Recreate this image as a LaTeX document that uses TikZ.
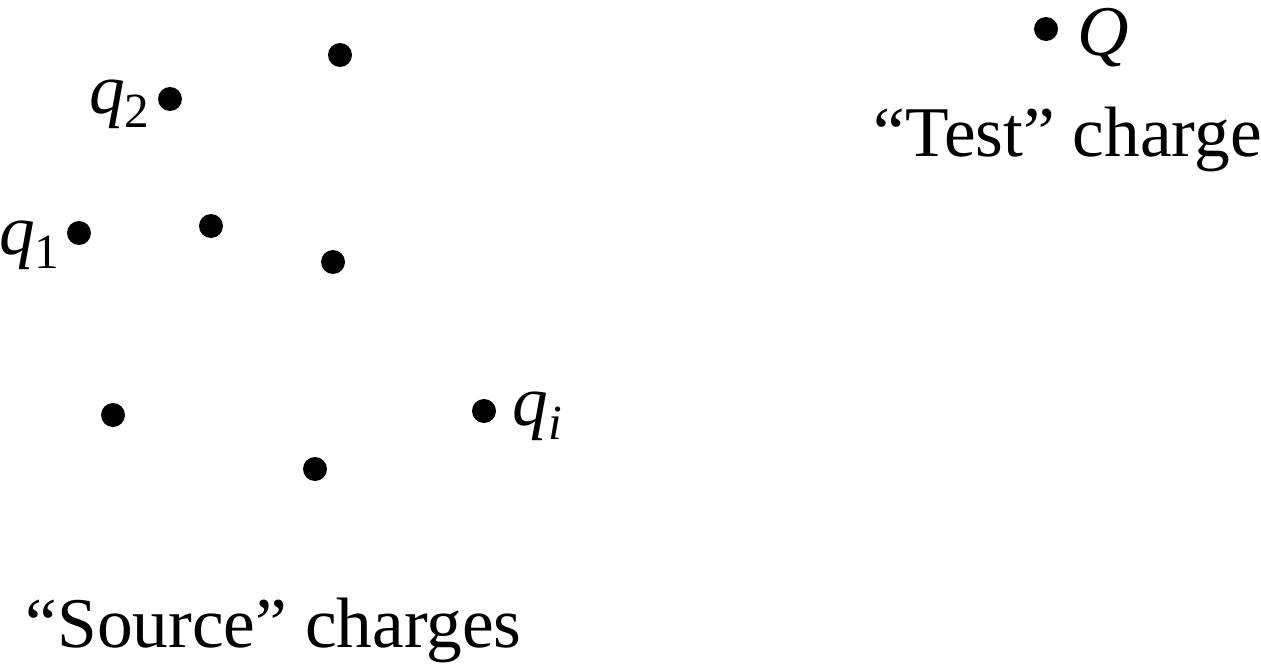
\documentclass[tikz,border=0pt]{standalone}
\usepackage{fontspec}
\setmainfont{Liberation Serif}
\usetikzlibrary{positioning}

\newcommand{\chq}[2]{\textit{#1}\raisebox{-4pt}{\fontsize{14}{15}\selectfont #2}}

\tikzset{
  charge/.style={circle, fill=black, inner sep=0pt, minimum size=0.24cm},
  lbl/.style={inner sep=0pt, font=\fontsize{20.3}{22}\selectfont}
}

\begin{document}
\begin{tikzpicture}
  \useasboundingbox (0,0) rectangle (12.61,6.69);
  % source charges
  \node[charge] (c1) at (3.40,6.14) {};
  \node[charge] (c2) at (1.70,5.70) {};
  \node[charge] (c3) at (0.79,4.36) {};
  \node[charge] (c4) at (2.11,4.43) {};
  \node[charge] (c5) at (3.33,4.07) {};
  \node[charge] (c6) at (1.13,2.54) {};
  \node[charge] (c7) at (4.84,2.58) {};
  \node[charge] (c8) at (3.15,2.00) {};
  \node[lbl, anchor=base east] (q2) at (1.50,5.56) {\chq{q}{2}};
  \node[lbl, anchor=base east] (q1) at (0.60,4.15) {\chq{q}{1}};
  \node[lbl, anchor=base west] (qi) at (5.12,2.44) {\chq{q}{\textit{i}}};
  % test charge
  \node[charge] (tq) at (10.46,6.40) {};
  \node[lbl, anchor=base west] (Q) at (10.77,6.14) {\textit{Q}};
  \node[lbl, anchor=base west] (test) at (8.73,5.12) {``Test'' charge};
  \node[lbl, anchor=base west] (source) at (0.25,0.22) {``Source'' charges};
\end{tikzpicture}
\end{document}
